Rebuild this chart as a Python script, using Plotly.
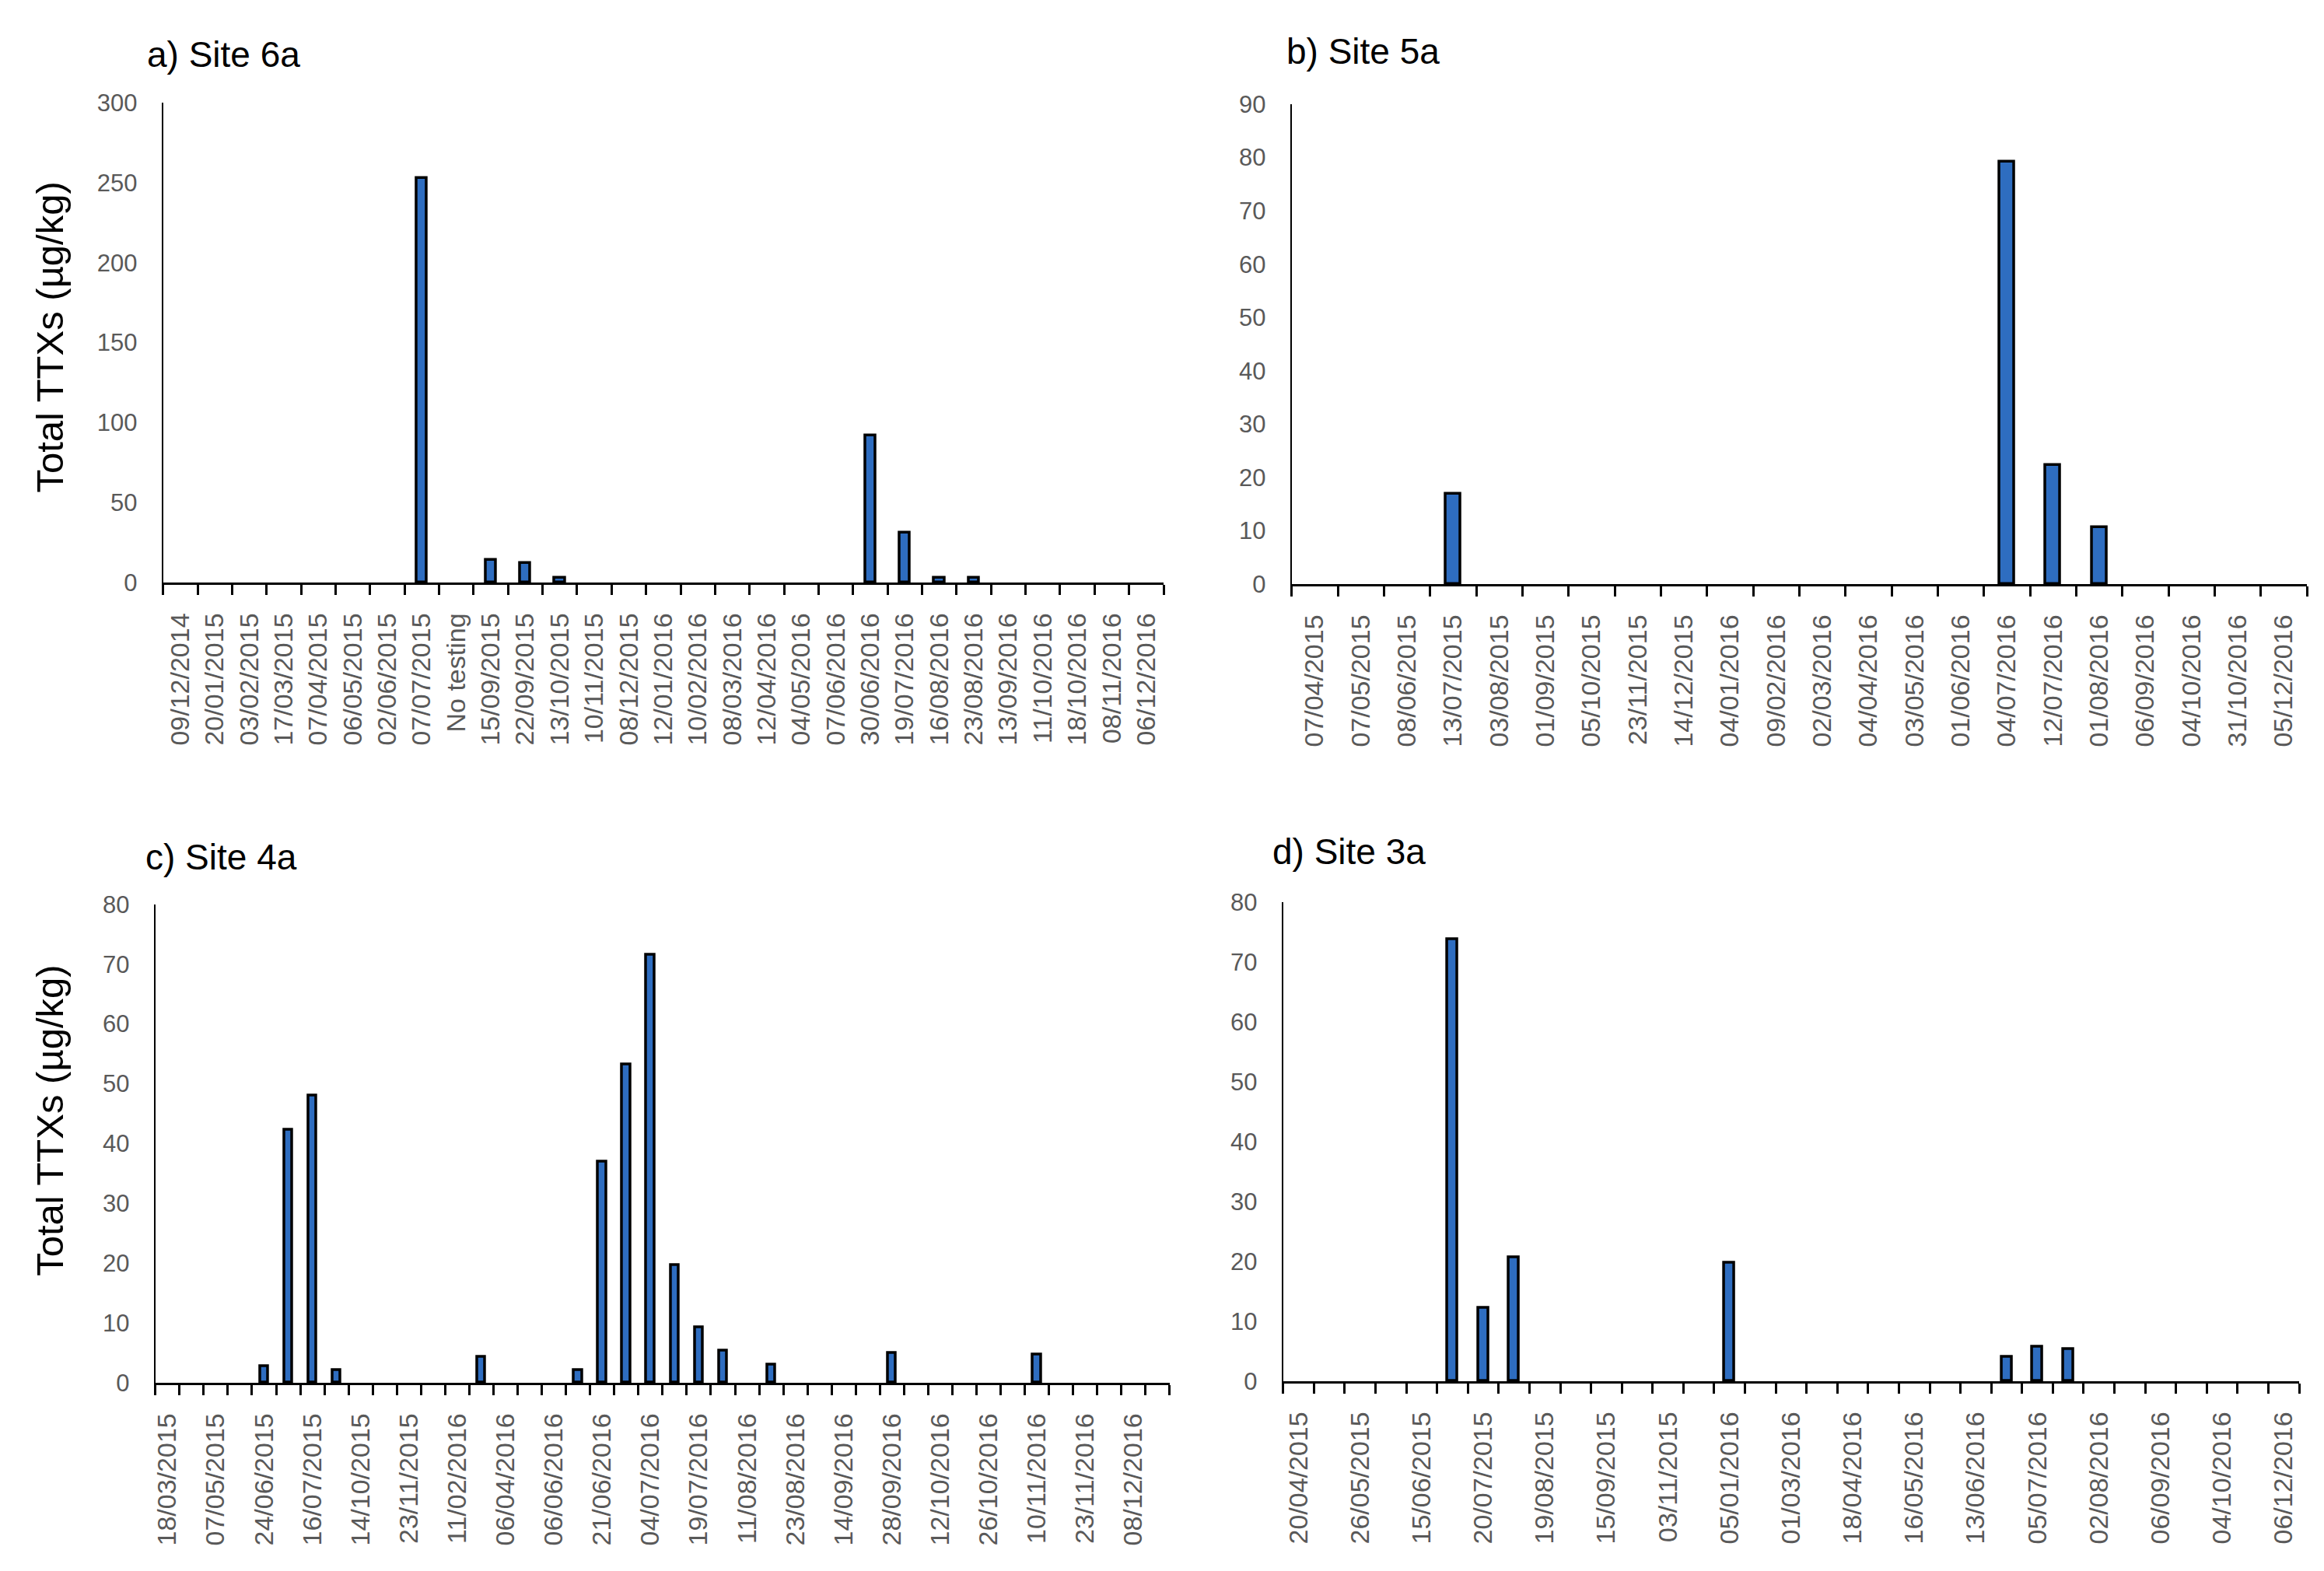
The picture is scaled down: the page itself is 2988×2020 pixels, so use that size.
import plotly.graph_objects as go

# Site 6a - every sampling date is labelled
site6a_dates = ["09/12/2014", "20/01/2015", "03/02/2015", "17/03/2015", "07/04/2015",
                "06/05/2015", "02/06/2015", "07/07/2015", "No testing", "15/09/2015",
                "22/09/2015", "13/10/2015", "10/11/2015", "08/12/2015", "12/01/2016",
                "10/02/2016", "08/03/2016", "12/04/2016", "04/05/2016", "07/06/2016",
                "30/06/2016", "19/07/2016", "16/08/2016", "23/08/2016", "13/09/2016",
                "11/10/2016", "18/10/2016", "08/11/2016", "06/12/2016"]
site6a_ttx = [0, 0, 0, 0, 0, 0, 0, 253, 0, 14,
              12, 3, 0, 0, 0, 0, 0, 0, 0, 0,
              92, 31, 3, 3, 0, 0, 0, 0, 0]

# Site 5a
site5a_dates = ["07/04/2015", "07/05/2015", "08/06/2015", "13/07/2015", "03/08/2015",
                "01/09/2015", "05/10/2015", "23/11/2015", "14/12/2015", "04/01/2016",
                "09/02/2016", "02/03/2016", "04/04/2016", "03/05/2016", "01/06/2016",
                "04/07/2016", "12/07/2016", "01/08/2016", "06/09/2016", "04/10/2016",
                "31/10/2016", "05/12/2016"]
site5a_ttx = [0, 0, 0, 17, 0, 0, 0, 0, 0, 0, 0,
              0, 0, 0, 0, 79.2, 22.4, 10.7, 0, 0, 0, 0]

# Site 4a - only every second sampling date is labelled on the axis
site4a_dates = ["18/03/2015", "07/05/2015", "24/06/2015", "16/07/2015", "14/10/2015",
                "23/11/2015", "11/02/2016", "06/04/2016", "06/06/2016", "21/06/2016",
                "04/07/2016", "19/07/2016", "11/08/2016", "23/08/2016", "14/09/2016",
                "28/09/2016", "12/10/2016", "26/10/2016", "10/11/2016", "23/11/2016",
                "08/12/2016"]
site4a_ttx = [0, 0, 0, 0, 2.7, 42.3, 48.0, 2.1, 0, 0,
              0, 0, 0, 4.3, 0, 0, 0, 2.1, 36.9, 53.2,
              71.5, 19.7, 9.2, 5.3, 0, 3.0, 0, 0, 0, 0,
              5.0, 0, 0, 0, 0, 0, 4.7, 0, 0, 0,
              0, 0]

# Site 3a - only every second sampling date is labelled on the axis
site3a_dates = ["20/04/2015", "26/05/2015", "15/06/2015", "20/07/2015", "19/08/2015",
                "15/09/2015", "03/11/2015", "05/01/2016", "01/03/2016", "18/04/2016",
                "16/05/2016", "13/06/2016", "05/07/2016", "02/08/2016", "06/09/2016",
                "04/10/2016", "06/12/2016"]
site3a_ttx = [0, 0, 0, 0, 0, 73.8, 12.2, 20.7, 0, 0,
              0, 0, 0, 0, 19.7, 0, 0, 0, 0, 0,
              0, 0, 0, 4.0, 5.7, 5.3, 0, 0, 0, 0,
              0, 0, 0]

BAR_BLUE = "#2E6DC0"
TICK_GREY = "#595959"
FONT = "Liberation Sans"
W, H = 2988, 2020


def add_panel(fig, idx, values, labels, label_step, ymax, ydtick, xdom, ydom, bar_width):
    """Excel style bar panel: ticks between categories, rotated date labels."""
    n = len(values)
    xname = "x" if idx == 1 else f"x{idx}"
    yname = "y" if idx == 1 else f"y{idx}"

    # no outline on empty bars, otherwise they leave stubs on the axis
    outline = [3.5 if v > 0 else 0 for v in values]
    fig.add_trace(go.Bar(
        x=list(range(n)),
        y=values,
        width=bar_width,
        marker=dict(color=BAR_BLUE, line=dict(color="black", width=outline)),
        xaxis=xname,
        yaxis=yname,
        showlegend=False,
    ))

    label_pos = list(range(0, n, label_step))[:len(labels)]
    boundaries = [i - 0.5 for i in range(n + 1)]

    fig.update_layout(**{
        xname.replace("x", "xaxis"): dict(
            domain=xdom, anchor=yname, range=[-0.5, n - 0.5],
            tickmode="array", tickvals=label_pos, ticktext=labels,
            # major ticks hidden, the minor ones mark the category boundaries
            ticks="outside", ticklen=13, tickcolor="rgba(0,0,0,0)",
            tickangle=-90, ticklabelstandoff=10,
            tickfont=dict(family=FONT, size=34, color=TICK_GREY),
            showline=True, linecolor="black", linewidth=2.5,
            showgrid=False, zeroline=False, fixedrange=True,
            minor=dict(tickmode="array", tickvals=boundaries, ticks="outside",
                       ticklen=13, tickwidth=2.5, tickcolor="black", showgrid=False),
        ),
        yname.replace("y", "yaxis"): dict(
            domain=ydom, anchor=xname, range=[0, ymax],
            tickmode="linear", tick0=0, dtick=ydtick, ticks="",
            ticklabelstandoff=25,
            tickfont=dict(family=FONT, size=31, color=TICK_GREY),
            showline=True, linecolor="black", linewidth=2,
            showgrid=False, zeroline=False, fixedrange=True,
        ),
    })


fig = go.Figure()

# panel boxes measured in pixels of the 2988x2020 page
add_panel(fig, 1, site6a_ttx, site6a_dates, 1, 300, 50,
          [206 / W, 1494 / W], [1 - 745 / H, 1 - 117 / H], 0.3)
add_panel(fig, 2, site5a_ttx, site5a_dates, 1, 90, 10,
          [1659 / W, 2966 / W], [1 - 747 / H, 1 - 119 / H], 0.32)
add_panel(fig, 3, site4a_ttx, site4a_dates, 2, 80, 10,
          [196 / W, 1502 / W], [1 - 1792 / H, 1 - 1166 / H], 0.33)
add_panel(fig, 4, site3a_ttx, site3a_dates, 2, 80, 10,
          [1648 / W, 2956 / W], [1 - 1790 / H, 1 - 1163 / H], 0.33)

# panel titles
titles = [("a) Site 6a", 183, 54), ("b) Site 5a", 1650, 50),
          ("c) Site 4a", 181, 1104), ("d) Site 3a", 1632, 1097)]
for text, px, py in titles:
    fig.add_annotation(text=text, x=px / W, y=1 - py / H, xref="paper", yref="paper",
                       xanchor="left", yanchor="middle", showarrow=False,
                       font=dict(family=FONT, size=46, color="black"))

# y axis title on the left column only
for py in (424, 1449):
    fig.add_annotation(text="Total TTXs (µg/kg)", x=60 / W, y=1 - py / H,
                       xref="paper", yref="paper", textangle=-90,
                       xanchor="center", yanchor="middle", showarrow=False,
                       font=dict(family=FONT, size=49, color="black"))

fig.update_layout(
    width=W, height=H,
    margin=dict(l=0, r=0, t=0, b=0),
    paper_bgcolor="white", plot_bgcolor="white",
    bargap=0,
)

# drop the default page margin so the figure sits exactly in the window
fig.write_html("out.html", config={"displayModeBar": False},
               post_script="document.body.style.margin = '0';")
